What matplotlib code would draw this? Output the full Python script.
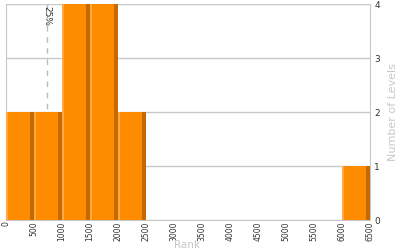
import matplotlib
matplotlib.use('Agg')
import matplotlib.pyplot as plt
import numpy as np

bin_left = [0, 500, 1000, 1500, 2000, 6000]
counts = [2, 2, 4, 4, 2, 1]
bin_w = 500
x_ticks = list(range(0, 7000, 500))
y_ticks = [0, 1, 2, 3, 4]
pct_pos = 730  # 25% marker

fig = plt.figure(figsize=(4, 2.5), dpi=100)
ax = fig.add_axes([0.015, 0.12, 0.91, 0.864])

gap = 16
left = np.array(bin_left) + gap / 2
w = bin_w - gap
ax.bar(left, counts, width=w, align='edge', color='#ff8c00', zorder=3)
# light left edge and dark right edge of each bar
ax.bar(left, counts, width=25, align='edge', color='#ffa840', zorder=4)
ax.bar(left + w - 55, counts, width=55, align='edge', color='#c46a00', zorder=4)

ax.axvline(pct_pos, color='#bbbbbb', ls=(0, (4, 4)), lw=1, zorder=2)
ax.text(pct_pos, 3.97, '25%', rotation=270, ha='center', va='top', fontsize=6.5, color='#333333', zorder=5)

ax.set_xlim(0, 6500)
ax.set_ylim(0, 4)
ax.set_xticks(x_ticks)
ax.set_xticklabels([str(t) for t in x_ticks], rotation=90, fontsize=5.5, color='#333333')
ax.yaxis.tick_right()
ax.yaxis.set_label_position('right')
ax.set_yticks(y_ticks)
ax.set_yticklabels([str(t) for t in y_ticks], fontsize=6.5, color='#333333')
ax.tick_params(axis='x', length=0, pad=1)
ax.tick_params(axis='y', length=0, pad=3)
ax.grid(axis='y', color='#c8c8c8', lw=1, zorder=1)
for s in ['left', 'right', 'bottom']:
    ax.spines[s].set_color('#c8c8c8')
ax.spines['top'].set_visible(False)

ax.set_ylabel('Number of Levels', fontsize=8, color='#c8c8c8', rotation=90, labelpad=6)
fig.text(0.435, 0.006, 'Rank', fontsize=7.5, color='#c8c8c8', ha='left', va='baseline')

fig.savefig('out.png', dpi=100)
